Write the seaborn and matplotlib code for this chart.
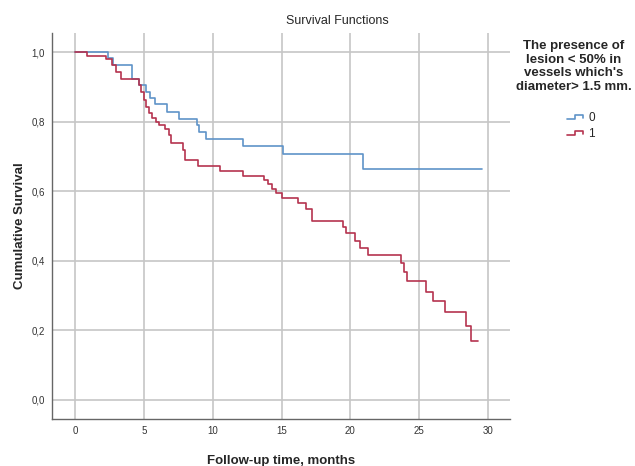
import numpy as np
import pandas as pd
import matplotlib
matplotlib.use("Agg")
import matplotlib.pyplot as plt
from matplotlib.lines import Line2D
from matplotlib.legend_handler import HandlerBase
import seaborn as sns

sns.set_theme(style="white")
plt.rcParams["font.family"] = ["Liberation Sans", "DejaVu Sans"]

# Kaplan-Meier steps (time in months, survival after each drop)
time_0 = [0, 2.35, 2.75, 4.1, 4.6, 5.1, 5.45, 5.8, 6.65, 7.5, 8.85, 9.0, 9.5, 12.2, 15.1, 20.9, 29.6]
surv_0 = [1.0, 0.982, 0.963, 0.924, 0.905, 0.886, 0.867, 0.852, 0.828, 0.809, 0.79, 0.771, 0.75, 0.731, 0.706, 0.663, 0.663]

time_1 = [0, 0.85, 2.2, 2.65, 2.95, 3.3, 4.6, 4.8, 5.0, 5.15, 5.35, 5.6, 5.85, 6.05, 6.55, 6.8,
          6.95, 7.8, 8.0, 8.9, 10.5, 12.2, 13.7, 14.0, 14.3, 14.6, 15.0, 16.2, 16.75, 17.2,
          19.45, 19.7, 20.3, 20.7, 21.3, 23.7, 23.9, 24.1, 25.5, 26.0, 26.9, 28.4, 28.8, 29.3]
surv_1 = [1.0, 0.99, 0.98, 0.962, 0.943, 0.922, 0.905, 0.885, 0.862, 0.843, 0.824, 0.81, 0.80,
          0.79, 0.78, 0.761, 0.738, 0.718, 0.69, 0.672, 0.659, 0.645, 0.632, 0.62, 0.606, 0.596,
          0.582, 0.567, 0.548, 0.513, 0.498, 0.479, 0.458, 0.436, 0.417, 0.393, 0.369, 0.343,
          0.311, 0.284, 0.254, 0.211, 0.170, 0.170]

groups = ["0", "1"]
x_ticks = [0, 5, 10, 15, 20, 25, 30]
y_ticks = [0.0, 0.2, 0.4, 0.6, 0.8, 1.0]
y_tick_labels = ["0,0", "0,2", "0,4", "0,6", "0,8", "1,0"]
legend_title = "The presence of\nlesion < 50% in\nvessels which's\ndiameter> 1.5 mm."

colors = {"0": "#5f93c8", "1": "#b5334f"}

df = pd.concat([
    pd.DataFrame({"time": time_0, "surv": surv_0, "group": "0"}),
    pd.DataFrame({"time": time_1, "surv": surv_1, "group": "1"}),
], ignore_index=True)


class StepHandler(HandlerBase):
    # small step glyph like SPSS legends
    def create_artists(self, legend, orig_handle, xdescent, ydescent, width, height, fontsize, trans):
        w, h = width, height
        xs = [0.05 * w, 0.5 * w, 0.5 * w, 0.95 * w, 0.95 * w]
        ys = [0.25 * h, 0.25 * h, 0.75 * h, 0.75 * h, 0.4 * h]
        ln = Line2D(xs, ys, color=orig_handle.get_color(), lw=1.2, transform=trans)
        return [ln]


fig = plt.figure(figsize=(6.35, 4.66), dpi=100)
ax = fig.add_axes([0.082, 0.101, 0.721, 0.828])

sns.lineplot(data=df, x="time", y="surv", hue="group", hue_order=groups, palette=colors,
             drawstyle="steps-post", estimator=None, linewidth=1.2, legend=False, ax=ax)

ax.set_xlim(-1.7, 31.6)
ax.set_ylim(-0.055, 1.055)
ax.set_xticks(x_ticks)
ax.set_yticks(y_ticks)
ax.set_yticklabels(y_tick_labels)
ax.tick_params(axis="both", labelsize=7, length=0, pad=5, colors="#333333")
ax.grid(True, color="#c6c6c6", linewidth=1.2)
ax.set_axisbelow(True)
for side in ["top", "right"]:
    ax.spines[side].set_visible(False)
for side in ["left", "bottom"]:
    ax.spines[side].set_color("#666666")
    ax.spines[side].set_linewidth(1.0)

ax.set_xlabel("Follow-up time, months", fontsize=9.5, fontweight="bold", labelpad=14)
ax.set_ylabel("Cumulative Survival", fontsize=9.5, fontweight="bold", labelpad=4)
fig.text(0.531, 0.955, "Survival Functions", ha="center", va="center", fontsize=9)

# legend title as its own text block, entries below it
fig.text(0.903, 0.914, legend_title, ha="center", va="top", fontsize=9.5,
         fontweight="bold", linespacing=1.18, multialignment="center")
handles = [Line2D([], [], color=colors[g]) for g in groups]
leg = fig.legend(handles, groups, loc="upper left", bbox_to_anchor=(0.891, 0.759),
                 frameon=False, fontsize=8.5, handler_map={Line2D: StepHandler()},
                 handlelength=1.5, handletextpad=0.4, labelspacing=0.35,
                 borderpad=0, borderaxespad=0)

fig.savefig("out.png", dpi=100)
